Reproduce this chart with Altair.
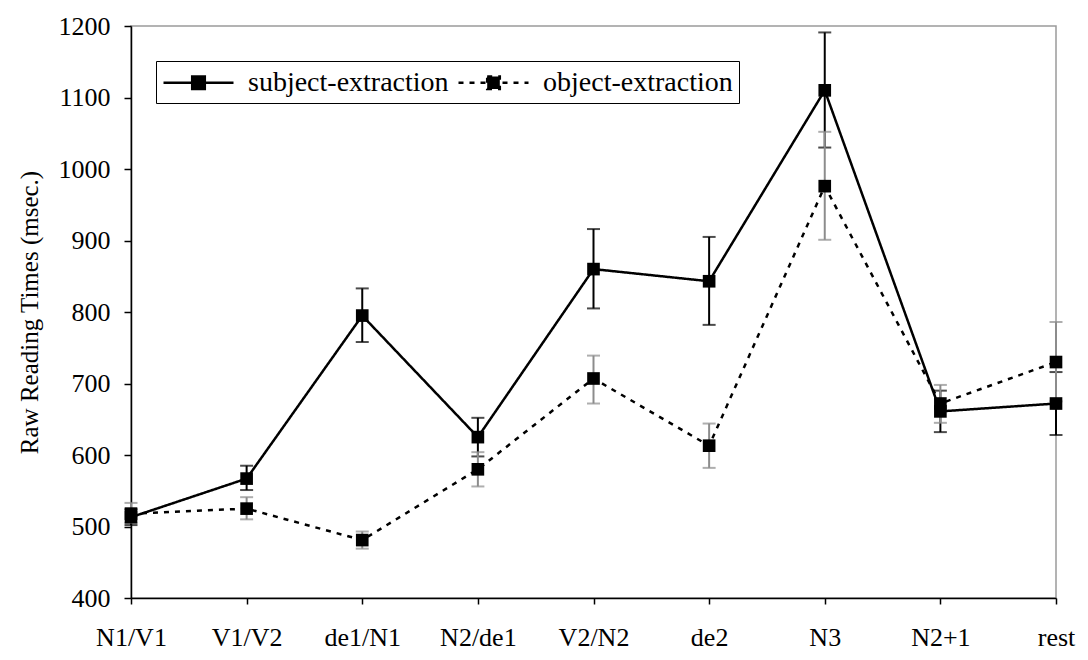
import altair as alt
import pandas as pd

categories = ["N1/V1", "V1/V2", "de1/N1", "N2/de1", "V2/N2", "de2", "N3", "N2+1", "rest"]
series_names = ["subject-extraction", "object-extraction"]

subject_mean = [513, 567, 795, 625, 860, 843, 1110, 661, 672]
subject_lo = [502, 551, 758, 598, 805, 782, 1030, 632, 628]
subject_hi = [524, 585, 833, 652, 916, 905, 1191, 690, 716]

object_mean = [518, 525, 481, 580, 707, 613, 976, 672, 730]
object_lo = [505, 510, 469, 556, 672, 582, 901, 645, 675]
object_hi = [533, 541, 493, 604, 739, 644, 1052, 698, 786]

y_ticks = [400, 500, 600, 700, 800, 900, 1000, 1100, 1200]

rows = []
for i, c in enumerate(categories):
    rows.append(dict(region=c, series=series_names[0],
                     rt=subject_mean[i], lo=subject_lo[i], hi=subject_hi[i]))
    rows.append(dict(region=c, series=series_names[1],
                     rt=object_mean[i], lo=object_lo[i], hi=object_hi[i]))
df = pd.DataFrame(rows)

FONT = "Liberation Serif"
YTITLE = "Raw Reading Times (msec.)"

x_enc = alt.X(
    "region:N", sort=categories,
    scale=alt.Scale(type="point", padding=0),
    axis=alt.Axis(title=None, labelAngle=0, labelFontSize=26, labelPadding=20,
                  tickSize=6, labelFont=FONT, labelColor="black", grid=False),
)
y_scale = alt.Scale(domain=[400, 1200], nice=False, zero=False)
y_axis = alt.Axis(values=y_ticks, format="d", title=YTITLE, labelFontSize=26, labelPadding=14,
                  tickSize=7, titleFontSize=25, titleFont=FONT, titleFontWeight="normal",
                  titleColor="black", titlePadding=16, labelFont=FONT, labelColor="black",
                  grid=False)


def yq(field):
    return alt.Y(f"{field}:Q", scale=y_scale, axis=y_axis)


legend_path = "M-2.5,0H2.5M-0.45,-0.45H0.45V0.45H-0.45Z"

base = alt.Chart(df)

lines = base.mark_line(color="black", strokeWidth=2.5).encode(
    x=x_enc, y=yq("rt"),
    strokeDash=alt.StrokeDash(
        "series:N",
        scale=alt.Scale(domain=series_names, range=[[1, 0], [5, 6]]),
        legend=alt.Legend(
            title=None, orient="none", legendX=25, legendY=35, direction="horizontal",
            symbolType=legend_path, symbolSize=784, symbolStrokeWidth=2.5,
            symbolStrokeColor="black", symbolFillColor="black", symbolOffset=21,
            labelOffset=34, labelFont=FONT, labelFontSize=28, labelColor="black",
            labelLimit=400, strokeColor="black", fillColor="white", padding=6,
            columnPadding=4,
        ),
    ),
)


def error_layers(series, colour):
    sub = base.transform_filter(alt.datum.series == series)
    rule = sub.mark_rule(strokeWidth=2, color=colour).encode(x=x_enc, y=yq("lo"), y2="hi:Q")
    lo = sub.mark_tick(thickness=2, size=13, color=colour).encode(x=x_enc, y=yq("lo"))
    hi = sub.mark_tick(thickness=2, size=13, color=colour).encode(x=x_enc, y=yq("hi"))
    return [rule, lo, hi]


points = base.mark_point(shape="square", filled=True, size=160, color="black", opacity=1).encode(
    x=x_enc, y=yq("rt"))

layers = [lines] + error_layers(series_names[0], "black") + \
    error_layers(series_names[1], "#8c8c8c") + [points]

chart = alt.layer(*layers).properties(
    width=925, height=572,
    padding={"left": 123, "top": 18, "right": 22, "bottom": 58},
    autosize=alt.AutoSizeParams(type="none"),
).configure(
    background="white", font=FONT
).configure_view(
    stroke="#9a9a9a", strokeWidth=1.5
).configure_axis(
    grid=False, domainColor="black", domainWidth=1.5, tickColor="black", tickWidth=1.5,
    labelFont=FONT, titleFont=FONT
).configure_legend(
    labelFont=FONT
)

chart.save("out.html", embed_options={"renderer": "svg", "actions": False})
